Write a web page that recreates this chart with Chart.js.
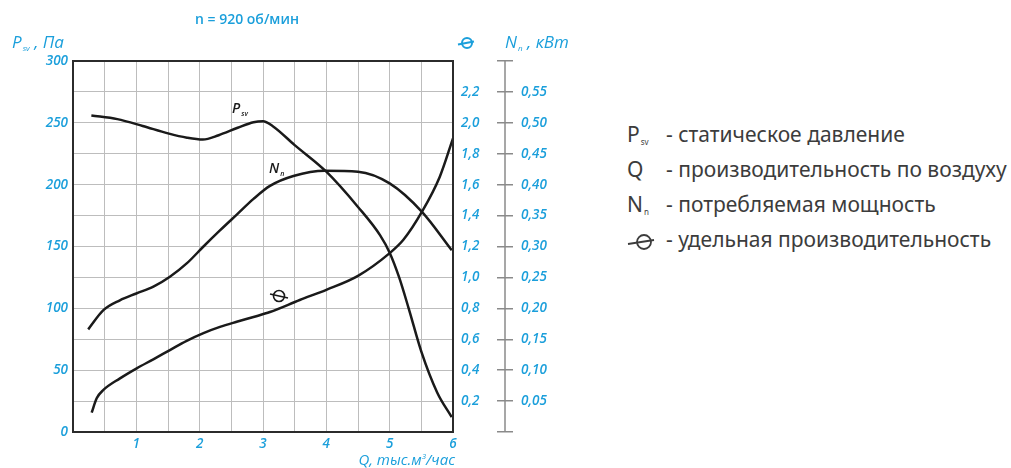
<!DOCTYPE html>
<html>
<head>
<meta charset="utf-8">
<script src="https://cdn.jsdelivr.net/npm/chart.js@4.4.0/dist/chart.umd.min.js"></script>
<style>
  body { margin: 0; background: #fff; width: 1011px; height: 468px; overflow: hidden; position: relative; font-family: "Open Sans", sans-serif; }
  #wrap { position: absolute; left: 0; top: 0; width: 560px; height: 468px; }
  .blue { position: absolute; color: #1b9fdb; white-space: nowrap; }
  .ital { font-style: italic; }
  .mark { position: absolute; color: #1a1a1a; font-style: italic; font-weight: 600; font-size: 14px; line-height: 16px; white-space: nowrap; }
  .sub { font-size: 7px; vertical-align: -3px; margin-left: 1px; line-height: 0; }
  .lg { position: absolute; font-family: "Noto Sans", sans-serif; font-size: 21px; line-height: 24px; color: #3c3c3c; white-space: nowrap; }
  svg { position: absolute; overflow: visible; }
</style>
</head>
<body>
<div id="wrap"><canvas id="fanChart" width="560" height="468"></canvas></div>

<!-- titles -->
<div class="blue" style="left:195px; top:11px; font-size:14px; font-weight:600; line-height:16px;">n = 920 об/мин</div>
<div class="blue ital" style="left:12px; top:32px; font-size:17px; line-height:20px;">P<span class="sub" style="font-size:8px">sv</span> , Па</div>
<svg style="left:457px; top:36px;" width="18" height="14"><circle cx="10" cy="7" r="5" fill="none" stroke="#1b9fdb" stroke-width="2"/><line x1="1" y1="8.5" x2="17" y2="5.5" stroke="#1b9fdb" stroke-width="2"/></svg>
<div class="blue ital" style="left:505px; top:32px; font-size:17px; line-height:20px;">N<span class="sub" style="font-size:8px">n</span> , кВт</div>
<div class="blue ital" style="right:556px; top:451px; font-size:15px; line-height:16px;">Q, тыс.м<sup style="font-size:8px; line-height:0;">3</sup>/час</div>

<!-- curve labels -->
<div class="mark" style="left:232px; top:100px;">P<span class="sub">sv</span></div>
<div class="mark" style="left:269px; top:160px;">N<span class="sub">n</span></div>
<svg style="left:270px; top:289px;" width="18" height="14"><circle cx="9" cy="7" r="5.5" fill="none" stroke="#1a1a1a" stroke-width="1.6"/><line x1="0" y1="5" x2="18" y2="9" stroke="#1a1a1a" stroke-width="1.6"/></svg>

<!-- legend -->
<div class="lg" style="left:627px; top:122px;">P<span class="sub" style="font-size:8px">sv</span></div>
<div class="lg" style="left:666px; top:122px;">- статическое давление</div>
<div class="lg" style="left:627px; top:157px;">Q</div>
<div class="lg" style="left:666px; top:157px;">- производительность по воздуху</div>
<div class="lg" style="left:627px; top:192px;">N<span class="sub" style="font-size:8px">n</span></div>
<div class="lg" style="left:666px; top:192px;">- потребляемая мощность</div>
<svg style="left:627px; top:233px;" width="28" height="18"><circle cx="17" cy="9" r="7" fill="none" stroke="#3c3c3c" stroke-width="1.8"/><line x1="1" y1="11" x2="27" y2="7" stroke="#3c3c3c" stroke-width="1.8"/></svg>
<div class="lg" style="left:666px; top:227px;">- удельная производительность</div>

<script>
// Q, тыс.м3/час for each curve and the values
var psvQ   = [0.29, 0.7, 1.1, 1.5, 1.8, 2.05, 2.3, 2.6, 2.85, 3.0, 3.15, 3.5, 4.0, 4.5, 4.85, 5.0, 5.15, 5.3, 5.5, 5.75, 5.98];
var psvVal = [256, 253, 247.5, 241.5, 238, 236.5, 240, 246, 250.5, 251.3, 247.5, 232, 210.5, 182, 159, 145, 125, 100, 65, 32, 12];

var nQ   = [0.24, 0.48, 0.74, 1.0, 1.27, 1.53, 1.8, 2.06, 2.32, 2.59, 2.85, 3.11, 3.48, 3.98, 4.5, 5.0, 5.51, 5.98];
var nVal = [0.166, 0.197, 0.213, 0.224, 0.235, 0.251, 0.273, 0.300, 0.326, 0.352, 0.377, 0.398, 0.414, 0.4225, 0.421, 0.402, 0.356, 0.294];

var thetaQ   = [0.295, 0.374, 0.48, 0.742, 1.006, 1.268, 1.53, 1.795, 2.06, 2.32, 2.585, 2.85, 3.11, 3.58, 4.0, 4.5, 5.0, 5.22, 5.51, 5.79, 6.0];
var thetaVal = [0.125, 0.218, 0.272, 0.347, 0.412, 0.470, 0.530, 0.590, 0.640, 0.680, 0.713, 0.744, 0.776, 0.854, 0.92, 1.01, 1.157, 1.245, 1.425, 1.65, 1.90];

var blue = '#1b9fdb';
var tickFont = { family: 'Open Sans', style: 'italic', weight: '600', size: 13.5 };

function points(xs, ys) {
  return xs.map(function (x, i) { return { x: x, y: ys[i] }; });
}

function curve(data, axis) {
  return {
    data: data,
    yAxisID: axis,
    borderColor: '#1a1a1a',
    borderWidth: 2.5,
    pointRadius: 0,
    fill: false,
    cubicInterpolationMode: 'monotone'
  };
}

// frame round the plot and the separate N axis line
var framePlugin = {
  id: 'frame',
  afterDraw: function (chart) {
    var ctx = chart.ctx, a = chart.chartArea, n = chart.scales.y2;
    ctx.save();
    ctx.strokeStyle = '#2b2b2b';
    ctx.lineWidth = 2;
    ctx.strokeRect(a.left, a.top, a.right - a.left, a.bottom - a.top);
    ctx.strokeStyle = '#8a8a8a';
    ctx.lineWidth = 1.5;
    ctx.beginPath();
    ctx.moveTo(n.left + 8, n.top);
    ctx.lineTo(n.left + 8, n.bottom);
    ctx.stroke();
    ctx.restore();
  }
};

var ctx = document.getElementById('fanChart').getContext('2d');
var fanChart = new Chart(ctx, {
  type: 'line',
  data: {
    datasets: [
      curve(points(psvQ, psvVal), 'y'),
      curve(points(nQ, nVal), 'y2'),
      curve(points(thetaQ, thetaVal), 'y1')
    ]
  },
  plugins: [framePlugin],
  options: {
    responsive: false,
    animation: false,
    layout: { padding: { top: 61, left: 0, right: 0, bottom: 0 } },
    plugins: { legend: { display: false }, tooltip: { enabled: false } },
    scales: {
      x: {
        type: 'linear', min: 0, max: 6,
        border: { display: false },
        grid: { color: '#bdbdbd', lineWidth: 1, drawTicks: false },
        ticks: {
          stepSize: 0.5, autoSkip: false, maxRotation: 0, padding: 4,
          color: blue, font: tickFont,
          callback: function (v) { return (Number.isInteger(v) && v > 0) ? String(v) : ''; }
        },
        afterFit: function (scale) { scale.height = 36; }
      },
      y: {
        position: 'left', min: 0, max: 300,
        border: { display: false },
        grid: { color: '#bdbdbd', lineWidth: 1, drawTicks: false },
        ticks: {
          stepSize: 25, autoSkip: false, padding: 5,
          color: blue, font: tickFont,
          callback: function (v) { return v % 50 === 0 ? String(v) : ''; }
        },
        afterFit: function (scale) { scale.width = 73; }
      },
      y1: {
        position: 'right', min: 0, max: 2.4,
        border: { display: false },
        grid: { display: false, drawTicks: false },
        ticks: {
          stepSize: 0.2, autoSkip: false, padding: 8,
          color: blue, font: tickFont,
          callback: function (v) { return (v > 0.01 && v < 2.39) ? v.toFixed(1).replace('.', ',') : ''; }
        },
        afterFit: function (scale) { scale.width = 44; }
      },
      y2: {
        position: 'right', min: 0, max: 0.6,
        border: { display: false },
        grid: { drawOnChartArea: false, color: '#8a8a8a', lineWidth: 1.5, tickLength: 16 },
        ticks: {
          stepSize: 0.05, autoSkip: false, padding: 8,
          color: blue, font: tickFont,
          callback: function (v) { return (v > 0.001 && v < 0.599) ? v.toFixed(2).replace('.', ',') : ''; }
        },
        afterFit: function (scale) { scale.width = 63; }
      }
    }
  }
});
</script>
</body>
</html>
